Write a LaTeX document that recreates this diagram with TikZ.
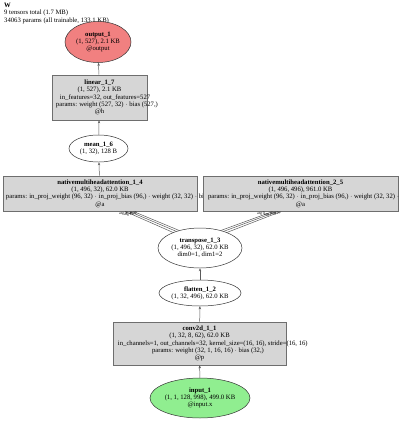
\documentclass[tikz,border=0pt]{standalone}
\usepackage{fontspec}
\setmainfont{Liberation Serif}
\usetikzlibrary{shapes.geometric,arrows.meta}
\definecolor{boxfill}{RGB}{214,214,214}
\definecolor{boxline}{RGB}{110,110,110}
\definecolor{outfill}{RGB}{241,128,128}
\definecolor{infill}{RGB}{144,238,144}
\definecolor{edgecol}{RGB}{90,90,90}
\newcommand{\shiftline}[2]{\makebox[0pt][l]{\hspace*{#1}#2}}
\tikzset{
  boxst/.style={rectangle,draw=boxline,fill=boxfill,inner sep=0pt,line width=0.6pt},
  ellst/.style={ellipse,draw=black!80,fill=white,inner sep=0pt,line width=0.5pt},
  txt/.style={font=\fontsize{6.7}{7.3}\selectfont,align=center,inner sep=0pt},
  tiny/.style={font=\fontsize{3.8}{4}\selectfont,inner sep=0pt},
  edge/.style={draw=edgecol,line width=0.5pt,-{Stealth[length=3pt,width=2.4pt]}}
}
\begin{document}
\begin{tikzpicture}[x=1bp,y=-1bp]
\useasboundingbox (0,0) rectangle (400,421);
% title
\node[txt,anchor=north west,align=left] (title) at (4,3) {\textbf{W}\\9 tensors total (1.7 MB)\\34063 params (all trainable, 133.1 KB)};
% nodes
\node[ellst,fill=outfill,minimum width=66bp,minimum height=41bp] (out) at (98,42) {};
\node[txt] (outt) at (out) {\textbf{output\_1}\\(1, 527), 2.1 KB\\@output};
\node[boxst,minimum width=95bp,minimum height=45bp] (lin) at (99.5,97.5) {};
\node[txt] (lint) at (lin) {\textbf{linear\_1\_7}\\(1, 527), 2.1 KB\\\shiftline{-39.5bp}{in\_features=32, out\_features=527}\\\shiftline{-43.5bp}{params: weight (527, 32) $\cdot$ bias (527,)}\\@h};
\node[ellst,minimum width=59bp,minimum height=27bp] (mean) at (98.5,148.5) {};
\node[txt] (meant) at (mean) {\textbf{mean\_1\_6}\\(1, 32), 128 B};
\node[boxst,minimum width=194bp,minimum height=35bp] (a1) at (100,193.5) {};
\node[txt] (a1t) at (a1) {\textbf{nativemultiheadattention\_1\_4}\\(1, 496, 32), 62.0 KB\\\shiftline{-94bp}{params: in\_proj\_weight (96, 32) $\cdot$ in\_proj\_bias (96,) $\cdot$ weight (32, 32) $\cdot$ bias (32,)}\\@a};
\node[boxst,minimum width=195bp,minimum height=35bp] (a2) at (300.5,193.5) {};
\node[txt] (a2t) at (a2) {\textbf{nativemultiheadattention\_2\_5}\\(1, 496, 496), 961.0 KB\\\shiftline{-92.5bp}{params: in\_proj\_weight (96, 32) $\cdot$ in\_proj\_bias (96,) $\cdot$ weight (32, 32) $\cdot$ bias (32,)}\\@a};
\node[ellst,minimum width=84bp,minimum height=40bp] (tr) at (200,248) {};
\node[txt] (trt) at (tr) {\textbf{transpose\_1\_3}\\(1, 496, 32), 62.0 KB\\dim0=1, dim1=2};
\node[ellst,minimum width=82bp,minimum height=26bp] (fl) at (200,293) {};
\node[txt] (flt) at (fl) {\textbf{flatten\_1\_2}\\(1, 32, 496), 62.0 KB};
\node[boxst,minimum width=173bp,minimum height=43bp] (cv) at (199.5,343.5) {};
\node[txt] (cvt) at (cv) {\textbf{conv2d\_1\_1}\\(1, 32, 8, 62), 62.0 KB\\\shiftline{-81.5bp}{in\_channels=1, out\_channels=32, kernel\_size=(16, 16), stride=(16, 16)}\\\shiftline{-47.5bp}{params: weight (32, 1, 16, 16) $\cdot$ bias (32,)}\\@p};
\node[ellst,fill=infill,minimum width=100bp,minimum height=40bp] (in) at (200,398) {};
\node[txt] (int) at (in) {\textbf{input\_1}\\(1, 1, 128, 998), 499.0 KB\\@input.x};
% edges
\draw[edge] (in) -- (cv);
\draw[edge] (cv) -- (fl);
\draw[edge] (fl) -- (tr);
\draw[edge] (mean) -- (lin);
\draw[edge] (lin) -- (out);
\draw[edge] (a1) -- (mean);
\draw[edge] (tr.150) -- ([xshift=25bp]a1.south);
\draw[edge] (tr.145) -- ([xshift=29bp]a1.south);
\draw[edge] (tr.140) -- ([xshift=33bp]a1.south);
\draw[edge] (tr.40) -- ([xshift=-27bp]a2.south);
\draw[edge] (tr.35) -- ([xshift=-23bp]a2.south);
\draw[edge] (tr.30) -- ([xshift=-19bp]a2.south);
% edge labels
\node[tiny,anchor=north] (l1) at (123,212) {arg 0};
\node[tiny,anchor=north] (l2) at (128,212.5) {arg 1};
\node[tiny,anchor=north] (l3) at (133,212) {arg 2};
\node[tiny,anchor=north] (r1) at (261,212) {arg 0};
\node[tiny,anchor=north] (r2) at (268,212.5) {arg 1};
\node[tiny,anchor=north] (r3) at (275,212) {arg 2};
\end{tikzpicture}
\end{document}
